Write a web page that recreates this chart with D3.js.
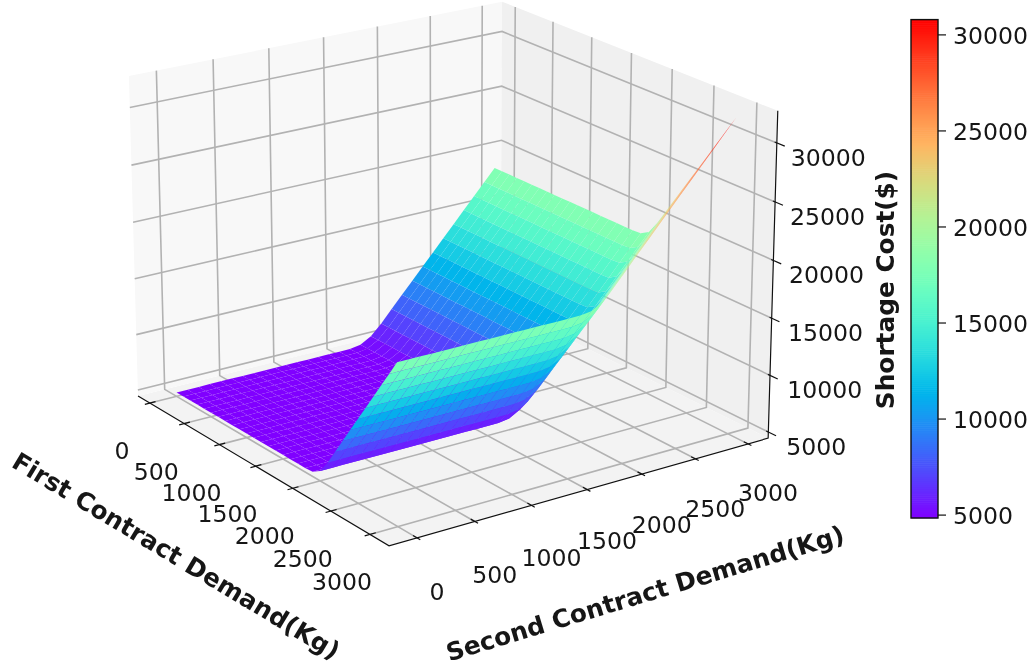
<!DOCTYPE html>
<html><head><meta charset="utf-8">
<style>html,body{margin:0;padding:0;background:#fff;overflow:hidden}
svg{display:block;filter:blur(.65px)}
text{font-family:"DejaVu Sans",sans-serif;fill:#161616}</style>
<script src="https://cdn.jsdelivr.net/npm/d3@7/dist/d3.min.js"></script>
</head><body><svg id="c" width="1033" height="669"></svg>
<script>
// ---- data ----
const firstDemand  = [0,100,200,300,400,500,600,700,800,900,1000,1100,1200,1300,1400,1500,1600,1700,1800,1900,2000,2100,2200,2300,2400,2500,2600,2700,2800,2900,3000];
const secondDemand = [0,100,200,300,400,500,600,700,800,900,1000,1100,1200,1300,1400,1500,1600,1700,1800,1900,2000,2100,2200,2300,2400,2500,2600,2700,2800,2900,3000];
const baseCost = 4810;
const costFromFirst  = [0,0,0,0,0,0,0,0,0,0,0,0,0,0,0,0,0,0,0,50,500,1600,2911,4222,5533,6844,8155,9466,10777,12088,13400];
const costFromSecond = [0,0,0,0,0,0,0,0,0,0,0,0,0,0,0,0,10,150,700,1650,2750,3833,4916,5999,7082,8165,9248,10331,11414,12497,13580];
const colorLimits = [4823,30770];
const axisTicks = [0,500,1000,1500,2000,2500,3000];
const zTicks = [5000,10000,15000,20000,25000,30000];
const firstLabel = "First Contract Demand(Kg)";
const secondLabel = "Second Contract Demand(Kg)";
const zLabel = "Shortage Cost($)";

// ---- camera (elevation / azimuth of the 3D view) ----
const elev = 20*Math.PI/180, azim = -35*Math.PI/180, dist = 10;
const focal = 4015, cx = 449, cy = 257.4;
const halfXY = 0.5716, halfZ = 0.4287;
const xLim = [-176,3239], yLim = [-239,3194], zLim = [4452,32697];
const wx = d3.scaleLinear().domain(xLim).range([-halfXY,halfXY]);
const wy = d3.scaleLinear().domain(yLim).range([-halfXY,halfXY]);
const wz = d3.scaleLinear().domain(zLim).range([-halfZ,halfZ]);
const se=Math.sin(elev), ce=Math.cos(elev), sa=Math.sin(azim), ca=Math.cos(azim);
function project(x,y,z){
  const a=wx(x), b=wy(y), c=wz(z);
  const X=-sa*a+ca*b;
  const Y=-se*ca*a-se*sa*b+ce*c;
  const D=ce*ca*a+ce*sa*b+se*c;
  const Z=dist-D;
  return {x:cx+focal*X/Z, y:cy-focal*Y/Z, d:Z};
}
const line = d3.line().x(p=>p.x).y(p=>p.y);
const P = pts => line(pts.map(p=>project(...p)))+"Z";
const L = pts => line(pts.map(p=>project(...p)));

// matplotlib "rainbow" colormap
const rainbow = t => d3.rgb(255*Math.abs(2*t-.5), 255*Math.sin(Math.PI*t), 255*Math.cos(Math.PI*t/2)).toString();

const svg = d3.select("#c");
const [x0,x1]=xLim,[y0,y1]=yLim,[z0,z1]=zLim;

// panes
const panes = svg.append("g");
panes.append("path").attr("d",P([[x0,y0,z0],[x1,y0,z0],[x1,y1,z0],[x0,y1,z0]])).attr("fill","#f3f3f3");
panes.append("path").attr("d",P([[x0,y0,z0],[x0,y1,z0],[x0,y1,z1],[x0,y0,z1]])).attr("fill","#f8f8f8");
panes.append("path").attr("d",P([[x0,y1,z0],[x1,y1,z0],[x1,y1,z1],[x0,y1,z1]])).attr("fill","#f0f0f0");

// grid
const grid = svg.append("g").attr("fill","none").attr("stroke","#b2b2b2").attr("stroke-width",1.6);
axisTicks.forEach(t=>{
  grid.append("path").attr("d",L([[t,y0,z0],[t,y1,z0],[t,y1,z1]]));
  grid.append("path").attr("d",L([[x1,t,z0],[x0,t,z0],[x0,t,z1]]));
});
zTicks.forEach(t=>{
  grid.append("path").attr("d",L([[x0,y0,t],[x0,y1,t],[x1,y1,t]]));
});

// axis lines and ticks
const axes = svg.append("g").attr("fill","none").attr("stroke","#111").attr("stroke-width",1.2);
axes.append("path").attr("d",L([[x0,y0,z0],[x1,y0,z0],[x1,y1,z0],[x1,y1,z1]]));
axisTicks.forEach(t=>{
  axes.append("path").attr("d",L([[t,y0-45,z0],[t,y0+50,z0]]));
  axes.append("path").attr("d",L([[x1-50,t,z0],[x1+40,t,z0]]));
});
zTicks.forEach(t=>{
  axes.append("path").attr("d",L([[x1-25,y1,t],[x1+90,y1,t]]));
});

// surface
const faces=[];
for(let i=0;i<firstDemand.length-1;i++)for(let j=0;j<secondDemand.length-1;j++){
  const zAt=(a,b)=>baseCost+costFromFirst[a]+costFromSecond[b];
  const corners=[[i,j],[i+1,j],[i+1,j+1],[i,j+1]].map(([a,b])=>[firstDemand[a],secondDemand[b],zAt(a,b)]);
  faces.push({corners,avg:d3.mean(corners,c=>c[2]),depth:d3.mean(corners,c=>project(...c).d)});
}
const colorT=d3.scaleLinear().domain(colorLimits).range([0,1]).clamp(true);
faces.sort((a,b)=>b.depth-a.depth);
svg.append("g").selectAll("path").data(faces).join("path")
  .attr("d",f=>P(f.corners)).attr("fill",f=>rainbow(colorT(f.avg))).attr("stroke","none");

// tick labels
const fs=23.6;
const tl=svg.append("g").attr("font-size",fs);
const secondLabelDrop=d3.scaleLinear().domain([0,3000]).range([54,49]);
const zLabelGap=d3.scaleLinear().domain([5000,30000]).range([18,14]);
axisTicks.forEach(t=>{
  const a=project(t,y0,z0);
  tl.append("text").attr("x",a.x-28).attr("y",a.y+48).attr("text-anchor","middle").attr("dominant-baseline","central").text(t);
  const b=project(x1,t,z0);
  tl.append("text").attr("x",b.x+20).attr("y",b.y+secondLabelDrop(t)).attr("text-anchor","middle").attr("dominant-baseline","central").text(t);
});
zTicks.forEach(t=>{
  const a=project(x1,y1,t);
  tl.append("text").attr("x",a.x+zLabelGap(t)).attr("y",a.y+15).attr("dominant-baseline","central").text(t);
});

// axis labels
const lab=svg.append("g").attr("font-size",24.8).attr("font-weight","bold").attr("text-anchor","middle").attr("dominant-baseline","central");
lab.append("text").attr("transform","translate(176,556) rotate(31)").text(firstLabel);
lab.append("text").attr("transform","translate(645,593.5) rotate(-16.8)").text(secondLabel);
lab.append("text").attr("transform","translate(885,290) rotate(-90)").text(zLabel);

// colour bar
const barLeft=911, barRight=938, barTop=19.6, barBottom=518;
const yBar=d3.scaleLinear().domain(colorLimits).range([barBottom,barTop]);
const bar=svg.append("g");
const barSteps=d3.range(0,256);
bar.selectAll("rect").data(barSteps).join("rect")
  .attr("x",barLeft).attr("width",barRight-barLeft)
  .attr("y",i=>barBottom-(i+1)*(barBottom-barTop)/256-.3)
  .attr("height",(barBottom-barTop)/256+.6)
  .attr("fill",i=>rainbow((i+.5)/256));
bar.append("rect").attr("x",barLeft).attr("y",barTop).attr("width",barRight-barLeft).attr("height",barBottom-barTop)
  .attr("fill","none").attr("stroke","#111").attr("stroke-width",1.4);
const barAxis=d3.axisRight(yBar).tickValues(zTicks).tickSize(8).tickPadding(7).tickFormat(d3.format("d"));
const gb=svg.append("g").attr("transform",`translate(${barRight},0)`).call(barAxis);
gb.select(".domain").remove();
gb.selectAll("line").attr("stroke","#111").attr("stroke-width",1.2);
gb.selectAll("text").attr("font-size",fs).attr("font-family",'"DejaVu Sans"').attr("fill","#161616").attr("dy","0.38em");
</script></body></html>
